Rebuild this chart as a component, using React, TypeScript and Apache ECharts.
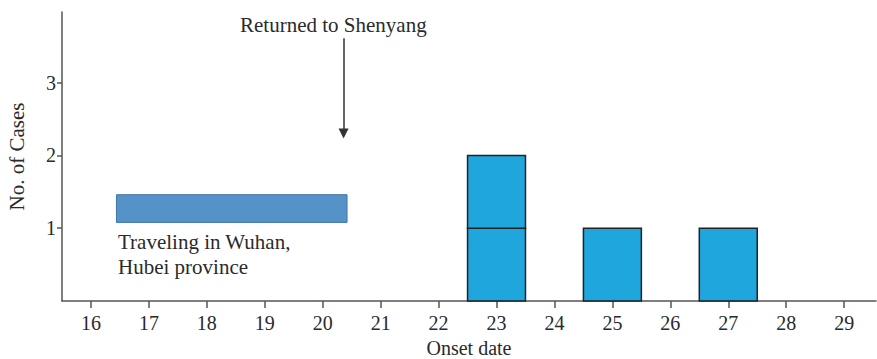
import React, { useEffect, useRef } from "react";
import * as echarts from "echarts";

// Onset dates (day of January) and number of cases with onset on each day
const onsetDays = [23, 25, 27];
const caseCounts = [2, 1, 1];
const xTickDays = [16, 17, 18, 19, 20, 21, 22, 23, 24, 25, 26, 27, 28, 29];
const yTickValues = [1, 2, 3];
// Travel period in Wuhan (x: start/end day, y: band top/bottom)
const travelDays = [16.44, 20.42];
const travelBand = [1.08, 1.46];
// Return to Shenyang arrow (x: day, y: from/to)
const returnDay = [20.36];
const returnArrowY = [3.61, 2.3];

const FONT = "'Liberation Serif', 'DejaVu Serif', serif";
const TEXT = "#2a2a2a";
const AXIS = "#555555";

export default function App() {
  const ref = useRef<HTMLDivElement>(null);

  useEffect(() => {
    if (!ref.current) return;
    const chart = echarts.init(ref.current, undefined, { renderer: "svg" });

    const boxes: number[][] = [];
    onsetDays.forEach((d, i) => {
      for (let k = 1; k <= caseCounts[i]; k++) boxes.push([d, k]);
    });

    chart.setOption({
      animation: false,
      grid: { left: 62, right: 1, top: 12, bottom: 58, containLabel: false, outerBoundsMode: "none" },
      xAxis: {
        type: "value",
        min: 15.5,
        max: 29.55,
        name: "Onset date",
        nameLocation: "middle",
        nameGap: 36,
        nameTextStyle: { fontFamily: FONT, fontSize: 20, lineHeight: 20, color: TEXT },
        axisLine: { show: true, lineStyle: { color: AXIS, width: 1.5 } },
        axisTick: { show: true, length: 7, customValues: xTickDays, lineStyle: { color: AXIS, width: 1.5 } },
        axisLabel: { customValues: xTickDays, fontFamily: FONT, fontSize: 20, color: TEXT, margin: 12 },
        splitLine: { show: false },
      },
      yAxis: {
        type: "value",
        min: 0,
        max: 3.97,
        name: "No. of Cases",
        nameLocation: "middle",
        nameGap: 35,
        nameTextStyle: { fontFamily: FONT, fontSize: 21, color: TEXT },
        axisLine: { show: true, lineStyle: { color: AXIS, width: 1.5 } },
        axisTick: { show: true, length: 5, customValues: yTickValues, lineStyle: { color: AXIS, width: 1.5 } },
        axisLabel: { customValues: yTickValues, fontFamily: FONT, fontSize: 20, color: TEXT, margin: 6 },
        splitLine: { show: false },
      },
      series: [
        {
          type: "custom",
          data: boxes,
          renderItem: (params: any, api: any) => {
            const x = api.value(0) as number;
            const k = api.value(1) as number;
            const p1 = api.coord([x - 0.5, k]);
            const p2 = api.coord([x + 0.5, k - 1]);
            return {
              type: "rect",
              shape: { x: p1[0], y: p1[1], width: p2[0] - p1[0], height: p2[1] - p1[1] },
              style: { fill: "#1fa6dd", stroke: "#222222", lineWidth: 1.5 },
            };
          },
          markArea: {
            silent: true,
            itemStyle: { color: "#5592c8", borderColor: "#3f74a6", borderWidth: 1 },
            label: { show: false },
            data: [
              [
                { coord: [travelDays[0], travelBand[1]] },
                { coord: [travelDays[1], travelBand[0]] },
              ],
            ],
          },
          markLine: {
            silent: true,
            symbol: ["none", "triangle"],
            symbolSize: [10, 10],
            lineStyle: { color: "#333333", width: 1.5, type: "solid" },
            itemStyle: { color: "#222222" },
            label: { show: false },
            data: [
              [
                { coord: [returnDay[0], returnArrowY[0]] },
                { coord: [returnDay[0], returnArrowY[1]] },
              ],
            ],
          },
        },
      ],
      graphic: [
        {
          type: "text",
          left: 240,
          top: 14,
          style: { text: "Returned to Shenyang", fontFamily: FONT, fontSize: 21, fill: TEXT },
        },
        {
          type: "text",
          left: 118,
          top: 229,
          style: {
            text: "Traveling in Wuhan,\nHubei province",
            fontFamily: FONT,
            fontSize: 21,
            lineHeight: 25,
            fill: TEXT,
          },
        },
      ],
    });

    return () => chart.dispose();
  }, []);

  return (
    <div
      ref={ref}
      style={{ position: "fixed", left: 0, top: 0, width: 877, height: 359, background: "#fff" }}
    />
  );
}
